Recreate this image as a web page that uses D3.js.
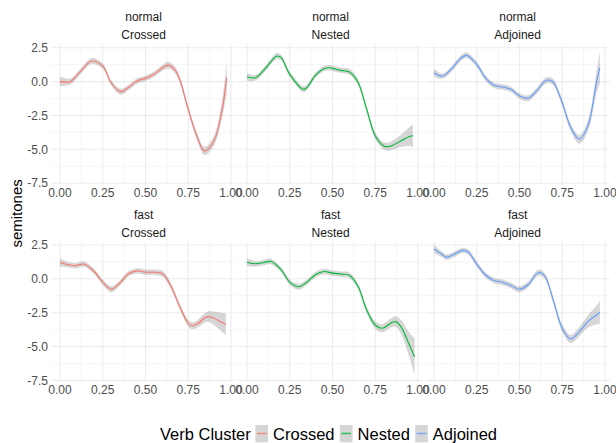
<!DOCTYPE html>
<html>
<head>
<meta charset="utf-8">
<script src="https://cdn.jsdelivr.net/npm/d3@7"></script>
<style>
  body { margin: 0; background: #fff; }
  svg { font-family: "Liberation Sans", Arial, Helvetica, sans-serif; }
</style>
</head>
<body>
<div class="chart"></div>
<script>
// data: [time, semitones, half-width of ribbon]
var normalCrossed = [[0,0.02,0.35],[0.06,0.0,0.22],[0.12,0.75,0.2],[0.185,1.52,0.22],[0.25,1.15,0.2],[0.3,-0.1,0.2],[0.355,-0.74,0.22],[0.4,-0.44,0.2],[0.45,0.05,0.2],[0.5,0.24,0.2],[0.55,0.54,0.2],[0.6,1.03,0.22],[0.634,1.22,0.25],[0.67,0.9,0.25],[0.7,0.17,0.25],[0.75,-2.04,0.25],[0.8,-4.0,0.27],[0.845,-5.12,0.3],[0.9,-4.38,0.35],[0.95,-1.92,0.7],[0.975,0.3,1.2]]
var normalNested = [[0,0.34,0.3],[0.05,0.29,0.2],[0.1,0.86,0.2],[0.175,1.89,0.22],[0.2,1.77,0.2],[0.25,0.54,0.2],[0.33,-0.57,0.22],[0.35,-0.44,0.2],[0.4,0.46,0.2],[0.45,0.96,0.2],[0.48,1.03,0.2],[0.5,0.98,0.2],[0.55,0.83,0.2],[0.6,0.71,0.22],[0.65,-0.07,0.22],[0.7,-2.04,0.22],[0.75,-4.0,0.25],[0.8,-4.75,0.27],[0.83,-4.8,0.3],[0.9,-4.38,0.45],[0.95,-4.06,0.7],[0.97,-4.0,0.85]]
var normalAdjoined = [[0,0.66,0.3],[0.05,0.41,0.2],[0.1,0.9,0.2],[0.15,1.64,0.2],[0.19,1.94,0.22],[0.25,1.28,0.2],[0.3,0.29,0.2],[0.35,-0.27,0.2],[0.4,-0.4,0.2],[0.45,-0.57,0.2],[0.5,-1.06,0.2],[0.55,-1.23,0.22],[0.6,-0.69,0.22],[0.65,0.05,0.22],[0.68,0.1,0.22],[0.7,-0.07,0.22],[0.75,-1.55,0.25],[0.8,-3.39,0.28],[0.85,-4.26,0.32],[0.9,-3.27,0.4],[0.95,-0.07,0.8],[0.97,1.03,1.2]]
var fastCrossed = [[0,1.21,0.3],[0.05,1.04,0.2],[0.09,0.97,0.2],[0.14,1.09,0.2],[0.2,0.54,0.2],[0.25,-0.25,0.2],[0.3,-0.77,0.22],[0.35,-0.32,0.2],[0.4,0.37,0.2],[0.45,0.59,0.2],[0.5,0.49,0.2],[0.55,0.49,0.2],[0.6,0.37,0.22],[0.65,-0.57,0.22],[0.7,-2.05,0.22],[0.75,-3.28,0.25],[0.77,-3.46,0.25],[0.8,-3.36,0.28],[0.85,-2.86,0.35],[0.87,-2.79,0.4],[0.9,-2.91,0.5],[0.97,-3.36,0.8]]
var fastNested = [[0,1.23,0.3],[0.05,1.11,0.2],[0.1,1.21,0.2],[0.14,1.28,0.2],[0.2,0.67,0.2],[0.25,-0.25,0.2],[0.3,-0.59,0.22],[0.35,-0.25,0.2],[0.4,0.3,0.2],[0.45,0.54,0.2],[0.5,0.42,0.2],[0.55,0.35,0.2],[0.6,0.25,0.22],[0.65,-0.57,0.22],[0.7,-2.3,0.25],[0.75,-3.41,0.27],[0.79,-3.65,0.3],[0.85,-3.21,0.35],[0.87,-3.16,0.4],[0.9,-3.53,0.5],[0.95,-4.89,0.9],[0.98,-5.75,1.35]]
var fastAdjoined = [[0,2.2,0.3],[0.05,1.78,0.2],[0.07,1.6,0.2],[0.1,1.7,0.2],[0.17,2.1,0.2],[0.2,1.98,0.2],[0.25,1.09,0.2],[0.3,0.3,0.2],[0.35,-0.12,0.2],[0.4,-0.25,0.2],[0.45,-0.49,0.2],[0.5,-0.77,0.22],[0.55,-0.44,0.22],[0.6,0.37,0.22],[0.62,0.47,0.22],[0.65,0.17,0.22],[0.7,-1.68,0.25],[0.75,-3.65,0.27],[0.8,-4.44,0.3],[0.85,-3.9,0.35],[0.9,-3.16,0.45],[0.95,-2.67,0.7],[0.97,-2.47,0.85]]

var rates = ['normal', 'fast']
var clusters = ['Crossed', 'Nested', 'Adjoined']
var colors = ['#F8766D', '#00BA38', '#619CFF']
var xTicks = [0, 0.25, 0.5, 0.75, 1]
var xMinor = [0.125, 0.375, 0.625, 0.875]
var yTicks = [2.5, 0, -2.5, -5, -7.5]
var yMinor = [1.25, -1.25, -3.75, -6.25]
var series = [[normalCrossed, normalNested, normalAdjoined], [fastCrossed, fastNested, fastAdjoined]]

// SVG setup
var width = 616, height = 443
var panelW = 184, panelH = 140, gapX = 3
var left = 51.6
var rowTop = [44.8, 242]

var svg = d3.select(".chart").append("svg")
    .attr("width", width)
    .attr("height", height)

var x = d3.scaleLinear().domain([-0.049, 1.027]).range([0, panelW])
var y = d3.scaleLinear().domain([-7.62, 2.72]).range([panelH, 0])

var area = d3.area()
    .x(d => x(d[0]))
    .y0(d => y(d[1] - d[2]))
    .y1(d => y(d[1] + d[2]))
    .curve(d3.curveCatmullRom.alpha(0.5))

var line = d3.line()
    .x(d => x(d[0]))
    .y(d => y(d[1]))
    .curve(d3.curveCatmullRom.alpha(0.5))

rates.forEach((rate, r) => {
  clusters.forEach((cl, c) => {
    var g = svg.append("g")
      .attr("transform", "translate(" + (left + c * (panelW + gapX)) + "," + rowTop[r] + ")")

    // grid
    g.selectAll(".minor-x").data(xMinor).enter().append("line")
      .attr("x1", d => x(d)).attr("x2", d => x(d))
      .attr("y1", 0).attr("y2", panelH)
      .attr("stroke", "#ebebeb").attr("stroke-width", 0.55)
    g.selectAll(".minor-y").data(yMinor).enter().append("line")
      .attr("y1", d => y(d)).attr("y2", d => y(d))
      .attr("x1", 0).attr("x2", panelW)
      .attr("stroke", "#ebebeb").attr("stroke-width", 0.55)
    g.selectAll(".major-x").data(xTicks).enter().append("line")
      .attr("x1", d => x(d)).attr("x2", d => x(d))
      .attr("y1", 0).attr("y2", panelH)
      .attr("stroke", "#ebebeb").attr("stroke-width", 1.07)
    g.selectAll(".major-y").data(yTicks).enter().append("line")
      .attr("y1", d => y(d)).attr("y2", d => y(d))
      .attr("x1", 0).attr("x2", panelW)
      .attr("stroke", "#ebebeb").attr("stroke-width", 1.07)

    // smooth + ribbon
    var data = series[r][c]
    g.append("path").datum(data)
      .attr("d", area)
      .attr("fill", "#999999")
      .attr("fill-opacity", 0.4)
    g.append("path").datum(data)
      .attr("d", line)
      .attr("fill", "none")
      .attr("stroke", colors[c])
      .attr("stroke-width", 1.1)

    // strip labels
    g.append("text").attr("x", panelW / 2).attr("y", -23.5)
      .attr("text-anchor", "middle").attr("font-size", 12).attr("fill", "#1a1a1a")
      .text(rate)
    g.append("text").attr("x", panelW / 2).attr("y", -5.5)
      .attr("text-anchor", "middle").attr("font-size", 12).attr("fill", "#1a1a1a")
      .text(cl)

    // x tick labels
    g.selectAll(".xt").data(xTicks).enter().append("text")
      .attr("x", d => x(d)).attr("y", panelH + 12)
      .attr("text-anchor", "middle").attr("font-size", 12).attr("fill", "#4d4d4d")
      .text(d => d3.format(".2f")(d))

    // y tick labels, first column only
    if (c === 0) {
      g.selectAll(".yt").data(yTicks).enter().append("text")
        .attr("x", -3.6).attr("y", d => y(d) + 4.2)
        .attr("text-anchor", "end").attr("font-size", 12).attr("fill", "#4d4d4d")
        .text(d => d3.format(".1f")(d).replace("−", "-"))
    }
  })
})

// y axis title
svg.append("text")
  .attr("transform", "translate(21.5," + (rowTop[0] + rowTop[1] + panelH) / 2 + ") rotate(-90)")
  .attr("text-anchor", "middle").attr("font-size", 15).attr("fill", "#000")
  .text("semitones")

// legend
var leg = svg.append("g").attr("transform", "translate(160,439.5)")
var title = leg.append("text").attr("font-size", 16.5).attr("fill", "#000").text("Verb Cluster")
var cx = title.node().getComputedTextLength() + 4.6
clusters.forEach((cl, i) => {
  leg.append("rect").attr("x", cx).attr("y", -14.5).attr("width", 12.7).attr("height", 17.3)
    .attr("fill", "#999999").attr("fill-opacity", 0.4)
  leg.append("line").attr("x1", cx + 1.5).attr("x2", cx + 11.2)
    .attr("y1", -6).attr("y2", -6)
    .attr("stroke", colors[i]).attr("stroke-width", 1.6).attr("stroke-opacity", 0.75)
  cx += 12.7 + 5
  var t = leg.append("text").attr("x", cx).attr("font-size", 16.5).attr("fill", "#000").text(cl)
  cx += t.node().getComputedTextLength() + 5.3
})
</script>
</body>
</html>
